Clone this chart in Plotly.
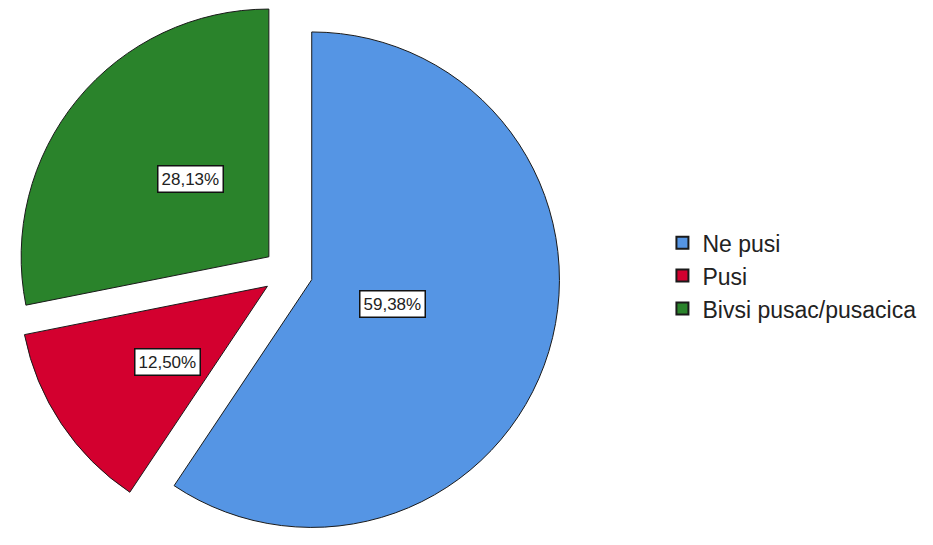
import math
import plotly.graph_objects as go

# Smoking status shares (percent)
categories = ["Ne pusi", "Pusi", "Bivsi pusac/pusacica"]
shares = [59.38, 12.50, 28.13]
label_texts = ["59,38%", "12,50%", "28,13%"]
colors = ["#5595E4", "#D3002F", "#2A832B"]

W, H = 933, 545
PULL = 0.1
dom_x = [0.0165, 0.6009]
dom_y = [0.0, 1.0]

fig = go.Figure(
    go.Pie(
        labels=categories,
        values=shares,
        sort=False,
        direction="clockwise",
        rotation=0,
        pull=[PULL] * len(shares),
        marker=dict(colors=colors, line=dict(color="#1a1a1a", width=1)),
        textinfo="none",
        hoverinfo="label+percent",
        domain=dict(x=dom_x, y=dom_y),
    )
)

# Percentage boxes placed at each slice's centroid, derived from the shares
wd = W * (dom_x[1] - dom_x[0])
hd = H * (dom_y[1] - dom_y[0])
r = min(wd, hd) / 2 / (1 + PULL)
cx = W * (dom_x[0] + dom_x[1]) / 2
cy = H * (1 - (dom_y[0] + dom_y[1]) / 2)
total = sum(shares)
start = 0.0
annotations = []
for v, txt in zip(shares, label_texts):
    span = v / total * 2 * math.pi
    mid = start + span / 2
    half = span / 2
    dx, dy = math.sin(mid), -math.cos(mid)
    d = PULL * r + 2 * r * math.sin(half) / (3 * half)
    px, py = cx + d * dx, cy + d * dy
    annotations.append(
        dict(
            x=px / W, y=1 - py / H, xref="paper", yref="paper",
            text=txt, showarrow=False,
            font=dict(family="Arial, Liberation Sans, sans-serif", size=17, color="#222222"),
            bgcolor="white", bordercolor="#111111", borderwidth=1.5, borderpad=3,
        )
    )
    start += span

fig.update_layout(
    width=W, height=H,
    margin=dict(l=0, r=0, t=0, b=0),
    paper_bgcolor="white",
    annotations=annotations,
    showlegend=True,
    legend=dict(
        x=0.71, y=0.494, xanchor="left", yanchor="middle",
        font=dict(family="Arial, Liberation Sans, sans-serif", size=23, color="#222222"),
        traceorder="normal", itemsizing="constant",
        tracegroupgap=0,
    ),
)

fig.write_html("out.html")
